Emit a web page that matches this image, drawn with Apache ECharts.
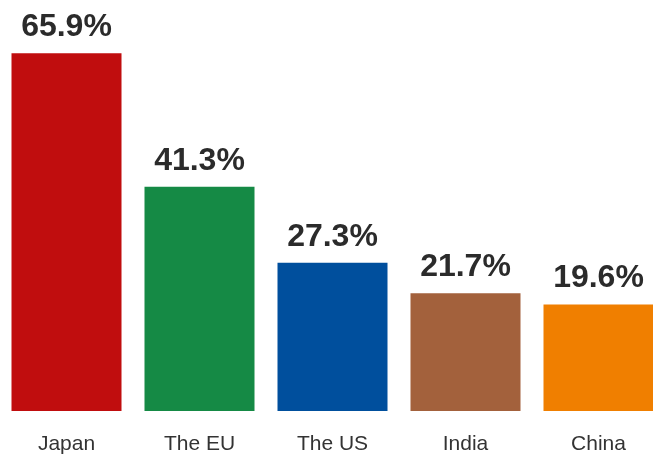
<!DOCTYPE html>
<html>
<head>
<meta charset="utf-8">
<script src="https://cdn.jsdelivr.net/npm/echarts@6/dist/echarts.min.js"></script>
<style>html,body{margin:0;padding:0;background:#fff;}#c{width:653px;height:454px;}</style>
</head>
<body>
<div id="c"></div>
<script>
const categories = ["Japan", "The EU", "The US", "India", "China"];
const values = [65.9, 41.3, 27.3, 21.7, 19.6];
const colors = ["#c00d0e", "#158a45", "#004f9d", "#a3613c", "#f07f00"];

const chart = echarts.init(document.getElementById('c'), null, {renderer: 'canvas'});
chart.setOption({
  animation: false,
  grid: {left: 0, width: 665, top: 31, bottom: 43, containLabel: false, outerBoundsMode: 'none'},
  xAxis: {
    type: 'category',
    data: categories,
    axisLine: {show: false},
    axisTick: {show: false},
    axisLabel: {fontFamily: 'Liberation Sans, Arial, sans-serif', fontSize: 21, color: '#333', margin: 23}
  },
  yAxis: {type: 'value', min: 0, max: 70, show: false, splitLine: {show: false}},
  series: [{
    type: 'bar',
    barWidth: 110,
    data: values.map((v, i) => ({value: v, itemStyle: {color: colors[i]}})),
    label: {
      show: true,
      position: 'top',
      distance: 10,
      formatter: p => p.value.toFixed(1) + '%',
      fontFamily: 'Liberation Sans, Arial, sans-serif',
      fontWeight: 'bold',
      fontSize: 32,
      color: '#2b2b2b'
    }
  }]
});
</script>
</body>
</html>
